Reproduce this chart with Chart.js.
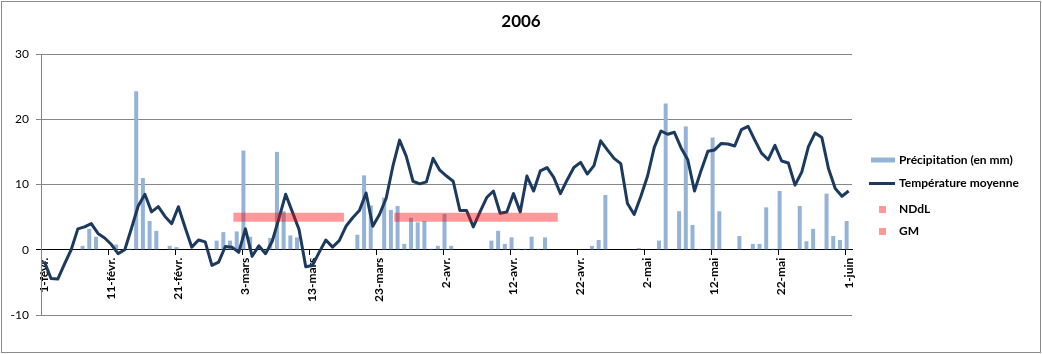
<!DOCTYPE html>
<html>
<head>
<meta charset="utf-8">
<script src="https://cdn.jsdelivr.net/npm/chart.js@4.4.1/dist/chart.umd.min.js"></script>
<style>
  html, body { margin: 0; padding: 0; background: #fff; }
  #wrap { width: 1042px; height: 354px; }
</style>
</head>
<body>
<div id="wrap"><canvas id="meteo" width="1042" height="354"></canvas></div>
<script>
// 1 févr. -> 1 juin 2006, one category per day
const months = [['févr.', 28], ['mars', 31], ['avr.', 30], ['mai', 31], ['juin', 1]];
const days = [];
months.forEach(([m, n]) => { for (let d = 1; d <= n; d++) days.push(d + '-' + m); });

const precipitation = [
  0, 0, 0, 0, 0, 0, 0.6, 3.2, 2.0, 0,
  0, 0.8, 0, 0.15, 24.3, 11.0, 4.4, 2.9, 0, 0.6,
  0.4, 0, 0, 0, 0, 0, 1.4, 2.7, 1.4, 2.8,
  15.2, 2.0, 0, 0, 1.8, 15.0, 5.9, 2.2, 1.9, 0,
  0, 0, 0, 0, 0, 0, 0, 2.3, 11.4, 6.8,
  0, 8.0, 6.1, 6.7, 0.9, 4.9, 4.2, 4.4, 0.15, 0.6,
  5.5, 0.6, 0, 0, 0, 0, 0, 1.4, 2.9, 0.9,
  1.9, 0.15, 0.15, 2.0, 0.15, 1.9, 0, 0, 0, 0,
  0, 0, 0.6, 1.5, 8.4, 0, 0, 0, 0, 0.25,
  0, 0, 1.4, 22.4, 0, 5.9, 18.9, 3.8, 0.15, 0,
  17.2, 5.9, 0, 0, 2.1, 0, 0.9, 0.9, 6.5, 0.15,
  9.0, 0, 0, 6.7, 1.3, 3.2, 0, 8.6, 2.1, 1.5,
  4.4
];

const temperature = [
  -1.8, -4.4, -4.5, -2.2, 0.0, 3.2, 3.5, 4.0, 2.5, 1.8,
  0.8, -0.6, 0.0, 3.3, 6.7, 8.5, 5.8, 6.6, 5.1, 4.0,
  6.6, 3.4, 0.4, 1.5, 1.2, -2.4, -1.9, 0.5, 0.4, -0.4,
  3.2, -1.0, 0.6, -0.6, 1.3, 4.8, 8.5, 5.8, 3.1, -2.6,
  -2.4, -0.4, 1.5, 0.4, 1.4, 3.6, 4.9, 6.0, 8.7, 3.6,
  5.4, 7.9, 12.8, 16.8, 14.3, 10.5, 10.1, 10.4, 14.0, 12.2,
  11.3, 10.5, 6.0, 6.0, 3.5, 5.8, 8.0, 9.0, 5.6, 5.8,
  8.6, 5.8, 11.3, 9.0, 12.1, 12.6, 11.1, 8.6, 10.7, 12.6,
  13.4, 11.6, 12.9, 16.7, 15.3, 14.0, 13.2, 7.1, 5.4, 8.2,
  11.3, 15.7, 18.2, 17.7, 18.0, 15.6, 13.8, 9.0, 12.2, 15.1,
  15.3, 16.3, 16.2, 15.9, 18.4, 18.9, 16.8, 14.8, 13.8, 16.0,
  13.6, 13.3, 9.9, 11.9, 15.8, 17.9, 17.2, 12.4, 9.4, 8.2,
  9.0
];

// observation periods (day index from 1 févr.) drawn as bands at level 5
const nddlDays = [28.2, 44.7];
const gmDays = [52.2, 76.6];
const bandLevel = 5;

const yTicks = [-10, 0, 10, 20, 30];

const FONT = 'Lato, "Liberation Sans", sans-serif';
const BLUE = '#95B3D7';
const NAVY = '#1B3A5E';
const PINK = 'rgba(255,0,0,0.4)';

const chrome = {
  id: 'chrome',
  afterDraw(chart) {
    const c = chart.ctx;
    c.save();
    c.strokeStyle = '#8c8c8c';
    c.lineWidth = 1;
    c.strokeRect(1.5, 1.5, 1039, 351);

    c.fillStyle = '#000';
    c.font = 'bold 17px ' + FONT;
    c.textAlign = 'center';
    c.textBaseline = 'middle';
    c.fillText('2006', 521, 22);

    const rows = [160, 183.5, 209.5, 231.5];
    c.font = 'bold 12px ' + FONT;
    c.textAlign = 'left';
    chart.data.datasets.forEach((ds, i) => {
      const y = rows[i];
      if (ds.type === 'bar') {
        c.fillStyle = ds.backgroundColor;
        c.fillRect(871, y - 2.5, 24, 5);
      } else if (ds.borderWidth < 5) {
        c.strokeStyle = ds.borderColor;
        c.lineWidth = 3;
        c.beginPath(); c.moveTo(869, y); c.lineTo(895, y); c.stroke();
      } else {
        c.fillStyle = ds.borderColor;
        c.fillRect(879, y - 3.5, 7, 7);
      }
      c.fillStyle = '#000';
      c.fillText(ds.label, 899, y);
    });
    c.restore();
  }
};

new Chart(document.getElementById('meteo'), {
  type: 'bar',
  data: {
    labels: days,
    datasets: [
      { type: 'bar', label: 'Précipitation (en mm)', data: precipitation,
        backgroundColor: BLUE, barThickness: 4, inflateAmount: 0, order: 2 },
      { type: 'line', label: 'Température moyenne', data: temperature,
        borderColor: NAVY, borderWidth: 3, pointRadius: 0, tension: 0,
        borderJoinStyle: 'round', order: 1 },
      { type: 'line', label: 'NDdL', xAxisID: 'x2',
        data: nddlDays.map(d => ({ x: d, y: bandLevel })),
        borderColor: PINK, borderWidth: 9, pointRadius: 0, order: 0 },
      { type: 'line', label: 'GM', xAxisID: 'x2',
        data: gmDays.map(d => ({ x: d, y: bandLevel })),
        borderColor: PINK, borderWidth: 9, pointRadius: 0, order: 0 }
    ]
  },
  options: {
    responsive: false,
    animation: false,
    layout: { padding: { left: 5, right: 190, top: 54, bottom: 39 } },
    plugins: { legend: { display: false }, title: { display: false }, tooltip: { enabled: false } },
    scales: {
      x: {
        position: { y: 0 },
        offset: true,
        grid: {
          offset: true,
          drawOnChartArea: false,
          tickLength: 5,
          color: ctx => (ctx.index % 10 === 0 ? '#000' : 'rgba(0,0,0,0)')
        },
        border: { color: '#000', width: 1 },
        ticks: {
          autoSkip: false,
          minRotation: 90,
          maxRotation: 90,
          padding: 3,
          color: '#000',
          font: { family: FONT, size: 12, weight: 'bold' },
          callback: (v, i) => (i % 10 === 0 ? days[i] : '')
        }
      },
      x2: { type: 'linear', display: false, offset: false, grid: { offset: false },
            min: -0.5, max: days.length - 0.5 },
      y: {
        min: yTicks[0],
        max: yTicks[yTicks.length - 1],
        afterBuildTicks: s => { s.ticks = yTicks.map(v => ({ value: v })); },
        afterFit: s => { s.width = 36; },
        grid: {
          tickLength: 5,
          color: ctx => (ctx.tick && ctx.tick.value === 0 ? '#000' : '#868686')
        },
        border: { color: '#868686' },
        ticks: { padding: 7, color: '#000', font: { family: FONT, size: 12 } }
      }
    }
  },
  plugins: [chrome]
});
</script>
</body>
</html>
